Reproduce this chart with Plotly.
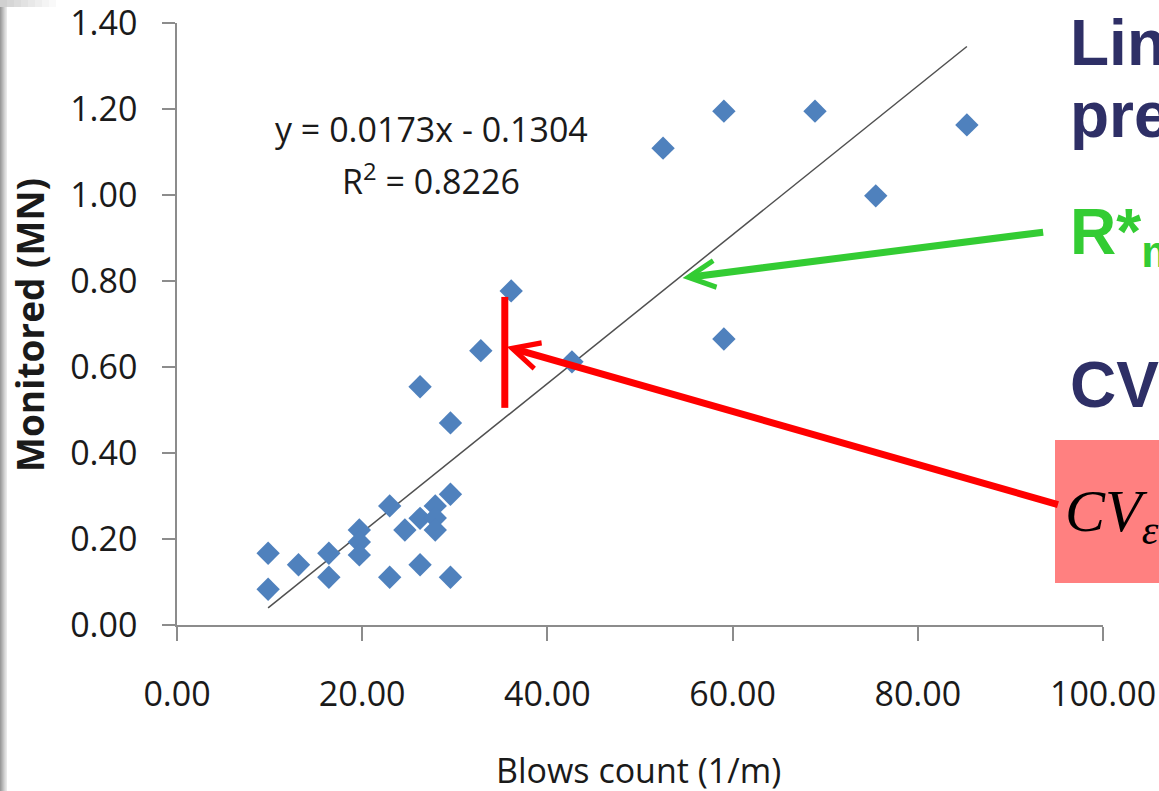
import plotly.graph_objects as go

# ---------------- data ----------------
blows = [9.84, 9.84, 13.12, 16.40, 16.40, 19.69, 19.69, 19.69, 22.97, 22.97,
         24.61, 26.25, 26.25, 27.89, 27.89, 27.89, 29.53, 29.53, 26.25, 29.53,
         32.81, 36.09, 42.65, 52.49, 59.06, 59.06, 68.90, 75.46, 85.30]
monitored = [0.167, 0.083, 0.140, 0.167, 0.111, 0.221, 0.193, 0.163, 0.277, 0.111,
             0.221, 0.248, 0.140, 0.277, 0.249, 0.221, 0.304, 0.111, 0.554, 0.470,
             0.638, 0.777, 0.612, 1.109, 1.195, 0.665, 1.195, 0.998, 1.163]
slope = 0.0173
intercept = -0.1304
r2 = 0.8226

x_ticks = [0, 20, 40, 60, 80, 100]
x_ticklabels = ["0.00", "20.00", "40.00", "60.00", "80.00", "100.00"]
y_ticks = [0, 0.2, 0.4, 0.6, 0.8, 1.0, 1.2, 1.4]
y_ticklabels = ["0.00", "0.20", "0.40", "0.60", "0.80", "1.00", "1.20", "1.40"]

# annotation anchor points (data units)
green_head = (54.6, 0.807)
green_tail = (93.7, 0.914)
red_head = (35.6, 0.647)
red_tail = (95.3, 0.279)
red_bar_x = 35.4
red_bar_y = (0.505, 0.763)

# ---------------- layout geometry ----------------
W, H = 1159, 791
L, R, T, B = 177, 1103, 23, 625
PW, PH = R - L, B - T


def px(p):
    return (p - L) / PW


def py(p):
    return (B - p) / PH


fig = go.Figure()

tx = [min(blows), max(blows)]
ty = [slope * v + intercept for v in tx]
fig.add_trace(go.Scatter(x=tx, y=ty, mode="lines",
                         line=dict(color="#505050", width=1.5),
                         hoverinfo="skip", showlegend=False))
fig.add_trace(go.Scatter(x=blows, y=monitored, mode="markers",
                         marker=dict(symbol="diamond", size=18, color="#4F81BD",
                                     line=dict(width=0)),
                         showlegend=False))

tickfont = dict(family="Open Sans", size=34, color="#1a1a1a")
fig.update_xaxes(range=[0, 100], tickvals=x_ticks, ticktext=x_ticklabels,
                 showgrid=False, zeroline=False, showline=True, linecolor="#8c8c8c",
                 linewidth=1.5, ticks="outside", ticklen=14, tickwidth=1.5,
                 tickcolor="#8c8c8c", tickfont=tickfont, ticklabelstandoff=24,
                 ticklabeloverflow="allow", automargin=False)
fig.update_yaxes(range=[0, 1.4], tickvals=y_ticks, ticktext=y_ticklabels,
                 showgrid=False, zeroline=False, showline=True, linecolor="#8c8c8c",
                 linewidth=1.5, ticks="outside", ticklen=13, tickwidth=1.5,
                 tickcolor="#8c8c8c", tickfont=tickfont, ticklabelstandoff=18,
                 ticklabeloverflow="allow", automargin=False)

shapes = []
# slide decorations on left / top
greys = ["#9a9a9a", "#a8a8a8", "#b6b6b6", "#c4c4c4", "#d2d2d2", "#dedede", "#e8e8e8"]
for i, c in enumerate(greys):
    shapes.append(dict(type="rect", xref="paper", yref="paper",
                       x0=px(i), x1=px(i + 1), y0=py(H), y1=py(7),
                       fillcolor=c, line=dict(width=0), layer="below"))
tops = ["#d0d0d0", "#d6d6d6", "#dcdcdc", "#e2e2e2", "#e8e8e8", "#eeeeee", "#f4f4f4", "#f9f9f9"]
for i, c in enumerate(tops):
    shapes.append(dict(type="rect", xref="paper", yref="paper",
                       x0=px(i * 7), x1=px(i * 7 + 7), y0=py(7), y1=py(0),
                       fillcolor=c, line=dict(width=0), layer="below"))
# pink box on right
shapes.append(dict(type="rect", xref="paper", yref="paper",
                   x0=px(1055), x1=px(1175), y0=py(583), y1=py(440),
                   fillcolor="#FF8080", line=dict(width=0), layer="above"))
# red vertical bar
shapes.append(dict(type="line", xref="x", yref="y",
                   x0=red_bar_x, x1=red_bar_x, y0=red_bar_y[0], y1=red_bar_y[1],
                   line=dict(color="#FF0000", width=7)))

annotations = []
# arrows
annotations.append(dict(x=green_head[0], y=green_head[1], ax=green_tail[0], ay=green_tail[1],
                        xref="x", yref="y", axref="x", ayref="y", text="",
                        showarrow=True, arrowhead=5, arrowsize=0.75, arrowwidth=7,
                        arrowcolor="#33CC33", standoff=0))
annotations.append(dict(x=red_head[0], y=red_head[1], ax=red_tail[0], ay=red_tail[1],
                        xref="x", yref="y", axref="x", ayref="y", text="",
                        showarrow=True, arrowhead=5, arrowsize=0.75, arrowwidth=7,
                        arrowcolor="#FF0000", standoff=0))

# equation
eqfont = dict(family="Open Sans", size=34, color="#1a1a1a")
annotations.append(dict(xref="paper", yref="paper", x=px(431), y=py(129),
                        text="y = 0.0173x - 0.1304", showarrow=False, font=eqfont,
                        xanchor="center", yanchor="middle"))
annotations.append(dict(xref="paper", yref="paper", x=px(431), y=py(179),
                        text="R<sup>2</sup> = %.4f" % r2, showarrow=False, font=eqfont,
                        xanchor="center", yanchor="middle"))

# axis titles
annotations.append(dict(xref="paper", yref="paper", x=px(638), y=py(770),
                        text="Blows count (1/m)", showarrow=False,
                        font=dict(family="Open Sans", size=34, color="#1a1a1a"),
                        xanchor="center", yanchor="middle"))
annotations.append(dict(xref="paper", yref="paper", x=px(29), y=py(325),
                        text="<b>Monitored (MN)</b>", showarrow=False, textangle=-90,
                        font=dict(family="Open Sans", size=37, color="#1a1a1a"),
                        xanchor="center", yanchor="middle"))

# right-side slide text
navy = "#2E2F66"
big = dict(family="Liberation Sans, Arial", size=64, color=navy)
annotations.append(dict(xref="paper", yref="paper", x=px(1068), y=py(43),
                        text="<b>Lin</b>", showarrow=False, font=big,
                        xanchor="left", yanchor="middle"))
annotations.append(dict(xref="paper", yref="paper", x=px(1068), y=py(115),
                        text="<b>pre</b>", showarrow=False, font=big,
                        xanchor="left", yanchor="middle"))
annotations.append(dict(xref="paper", yref="paper", x=px(1068), y=py(236),
                        text="<b>R*<sub>m</sub></b>", showarrow=False,
                        font=dict(family="Liberation Sans, Arial", size=64, color="#33CC33"),
                        xanchor="left", yanchor="middle"))
annotations.append(dict(xref="paper", yref="paper", x=px(1068), y=py(385),
                        text="<b>CV</b>", showarrow=False, font=big,
                        xanchor="left", yanchor="middle"))
annotations.append(dict(xref="paper", yref="paper", x=px(1063), y=py(515),
                        text="<i>CV<sub>εl</sub></i>", showarrow=False,
                        font=dict(family="Liberation Serif, Times New Roman", size=60, color="#000000"),
                        xanchor="left", yanchor="middle"))

fig.update_layout(width=W, height=H, margin=dict(l=L, r=W - R, t=T, b=H - B),
                  paper_bgcolor="white", plot_bgcolor="white",
                  shapes=shapes, annotations=annotations, showlegend=False)

fig.write_html("out.html")
